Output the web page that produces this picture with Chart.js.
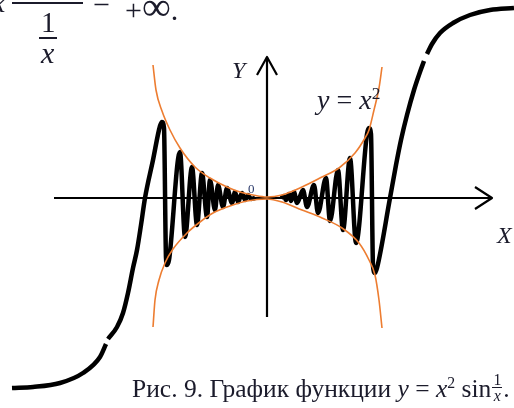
<!DOCTYPE html>
<html>
<head>
<meta charset="utf-8">
<script src="https://cdn.jsdelivr.net/npm/chart.js@4.4.1/dist/chart.umd.min.js"></script>
<style>
  body { margin: 0; background: #fff; }
  #wrap { position: relative; width: 514px; height: 408px; overflow: hidden; }
  #plot { position: absolute; left: 0; top: 0; }
  .t { position: absolute; white-space: nowrap; line-height: 1; color: #1b1b2b; font-family: "Liberation Serif", serif; }
  .t i { font-style: italic; }
  .t sup { font-size: 0.62em; vertical-align: 0.55em; line-height: 0; }
  .fr { display: inline-block; vertical-align: -0.32em; text-align: center; font-size: 0.62em; line-height: 1; margin: 0 1px; }
  .fr span { display: block; padding: 0 1px; }
  .fr .num { border-bottom: 1px solid #1b1b2b; }
  .bar { position: absolute; background: #1b1b2b; }
</style>
</head>
<body>
<div id="wrap"><canvas id="plot" width="514" height="408"></canvas></div>
<script>
// sketch units: 1 unit ~ 1px, origin where the axes cross
const axisX = [[-213, 0], [225, 0]];
const arrowX = [[208, 11], [225, 0], [208, -11]];
const axisY = [[0, -119], [0, 141]];
const arrowY = [[-10, 123], [0, 141], [10, 123]];

// y = x^2 and y = -x^2 envelopes (orange)
const upperBound = [[-114, 133], [-111, 108], [-105, 87], [-97, 68], [-87, 50], [-72, 31], [-57, 20], [-40, 11],
  [-27, 6], [-14, 3], [0, 1], [15, 3], [35, 11], [55, 21], [72, 30], [88, 45], [98, 60], [102, 68], [107, 88],
  [112, 110], [115, 131]];
const lowerBound = [[-114, -129], [-112, -102], [-108, -82], [-102, -65], [-94, -51], [-80, -35], [-67, -24],
  [-54, -15], [-37, -8], [-20, -3], [0, -1], [15, -4], [35, -12], [55, -20], [75, -30], [92, -45], [102, -62],
  [108, -77], [112, -102], [115, -130]];

// y = x^2 sin(1/x), black (peaks / troughs / crossings)
const tailLow = [[-255, -190], [-234, -189], [-207, -185], [-184, -175], [-167, -159], [-161, -146]];
const armLeft = [[-159, -141], [-150, -129], [-144, -115], [-139, -95], [-134, -70], [-130, -52], [-126, -27],
  [-122, 0], [-114, 38], [-107, 72], [-105, 76], [-103, 70], [-101, -60], [-100, -67], [-98, -62], [-87, 46],
  [-82, -39], [-75, 31], [-70, -27], [-65, 25],
  [-60, -19], [-57, 18], [-52, -12], [-49, 13], [-44, -9], [-40, 10], [-35, -5], [-32, 6], [-29, -4], [-25, 5],
  [-22, -2], [-19, 3], [-16, -1], [-12, 0]];
const armRight = [[14, 0], [17, 2], [19, -2], [22, 4], [24, -3], [27, 6], [30, -5], [36, 8], [40, -9], [47, 13],
  [51, -15], [59, 20], [63, -23], [71, 28], [76, -32], [83, 40], [89, -45], [100, 64], [102, 70], [104, 64],
  [106, -68], [108, -75], [110, -70], [123, 0],
  [129, 33], [134, 58], [140, 83], [147, 108], [153, 126], [157, 137]];
const tailHigh = [[160, 144], [165, 154], [173, 165], [186, 175], [203, 183], [223, 188], [247, 190]];

const INK = "#000000";
const ORANGE = "#ed7d31";

function line(points, color, width, order, smooth) {
  return {
    data: points.map(([x, y]) => ({ x, y })),
    showLine: true,
    borderColor: color,
    borderWidth: width,
    pointRadius: 0,
    fill: false,
    order,
    tension: 0,
    cubicInterpolationMode: smooth ? "monotone" : "default",
    borderCapStyle: "butt",
    borderJoinStyle: "round",
  };
}

new Chart(document.getElementById("plot"), {
  type: "scatter",
  data: {
    datasets: [
      line(axisX, INK, 2.2, 5, false),
      line(arrowX, INK, 2.2, 5, false),
      line(axisY, INK, 2.2, 5, false),
      line(arrowY, INK, 2.2, 5, false),
      line(tailLow, INK, 4.5, 2, true),
      line(armLeft, INK, 4.5, 2, true),
      line(armRight, INK, 4.5, 2, true),
      line(tailHigh, INK, 4.5, 2, true),
      line(upperBound, ORANGE, 1.6, 1, true),
      line(lowerBound, ORANGE, 1.6, 1, true),
    ],
  },
  options: {
    responsive: false,
    animation: false,
    devicePixelRatio: 1,
    events: [],
    layout: { padding: 0 },
    plugins: { legend: { display: false }, tooltip: { enabled: false } },
    scales: {
      x: { type: "linear", display: false, min: -267, max: 247 },
      y: { type: "linear", display: false, min: -210, max: 198 },
    },
  },
});

const wrap = document.getElementById("wrap");
function addText(html, x, base, size) {
  const el = document.createElement("div");
  el.className = "t";
  el.style.left = x + "px";
  el.style.top = (base - 0.84 * size) + "px";
  el.style.fontSize = size + "px";
  el.innerHTML = html;
  wrap.appendChild(el);
  return el;
}
function addBar(x, y, w, h) {
  const el = document.createElement("div");
  el.className = "bar";
  el.style.left = x + "px";
  el.style.top = y + "px";
  el.style.width = w + "px";
  el.style.height = h + "px";
  wrap.appendChild(el);
}

// formula cut off at the top of the page
addText("<i>x</i>", -8, 12, 30);
addBar(12, 2, 71, 1.6);
addText("=", 93, 12, 30);
addText("+<span style=\"font-size:1.35em\">∞</span>.", 125, 12, 30);
addText("1", 41, 32, 29);
addBar(39, 37, 18, 1.5);
addText("<i>x</i>", 41, 63, 30);

// axis labels
addText("<i>Y</i>", 232, 78, 24);
addText("<i>X</i>", 497, 243, 24);
addText("<i>y</i> = <i>x</i><sup>2</sup>", 317, 110, 28);
addText("0", 248, 193, 13).style.color = "#2b3a6b";

// caption
addText("Рис. 9. График функции <i>y</i> = <i>x</i><sup>2</sup> sin<span class=\"fr\"><span class=\"num\">1</span><span><i>x</i></span></span>.", 132, 393, 25.5);
</script>
</body>
</html>
